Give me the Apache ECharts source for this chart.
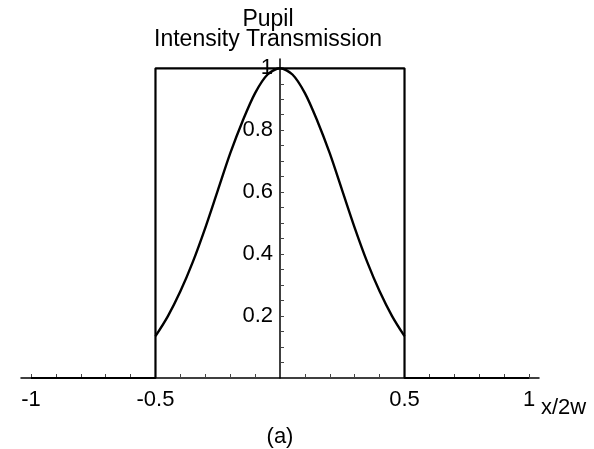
<!DOCTYPE html>
<html>
<head>
<meta charset="utf-8">
<script src="https://cdn.jsdelivr.net/npm/echarts@6/dist/echarts.min.js"></script>
<style>html,body{margin:0;padding:0;background:#fff}#c{width:594px;height:449px}</style>
</head>
<body>
<div id="c"></div>
<script>
// Data
const curveX = [-0.5,-0.45,-0.4,-0.35,-0.3,-0.25,-0.2,-0.15,-0.1,-0.05,0,0.05,0.1,0.15,0.2,0.25,0.3,0.35,0.4,0.45,0.5];
const curveY = [0.135,0.20,0.28,0.375,0.485,0.605,0.725,0.83,0.92,0.98,1,0.98,0.92,0.83,0.725,0.605,0.485,0.375,0.28,0.20,0.135];
const rectX = [-1,-0.5,-0.5,0.5,0.5,1];
const rectY = [0,0,1,1,0,0];
const xLabelValues = [-1,-0.5,0.5,1];
const xTickValues = [-1,-0.9,-0.8,-0.7,-0.6,-0.5,-0.4,-0.3,-0.2,-0.1,0.1,0.2,0.3,0.4,0.5,0.6,0.7,0.8,0.9,1];
const yLabelValues = [0.2,0.4,0.6,0.8,1];
const yTickValues = [0.05,0.1,0.15,0.2,0.25,0.3,0.35,0.4,0.45,0.5,0.55,0.6,0.65,0.7,0.75,0.8,0.85,0.9,0.95,1];
const titleLines = ['Pupil','Intensity Transmission'];
const xName = 'x/2w';
const caption = '(a)';

const FONT = '"Liberation Sans", Arial, Helvetica, sans-serif';
const GL = 21, GR = 55;
const W = 594;
const x0 = GL + (W - GL - GR) / 2; // pixel of x = 0 (symmetric range)
const chart = echarts.init(document.getElementById('c'));
chart.setOption({
  animation: false,
  backgroundColor: '#fff',
  grid: {left: GL, right: GR, top: 59, bottom: 71, containLabel: false, outerBoundsMode: 'none'},
  xAxis: {
    type: 'value', min: -1.04, max: 1.04,
    splitLine: {show: false},
    axisLine: {onZero: true, lineStyle: {color: '#000', width: 1.5}},
    axisTick: {show: true, inside: true, length: 4, customValues: xTickValues, lineStyle: {color: '#444', width: 1}},
    axisLabel: {customValues: xLabelValues, margin: 11, color: '#000', fontSize: 22, fontFamily: FONT,
      formatter: v => String(v)}
  },
  yAxis: {
    type: 'value', min: 0, max: 1.03, position: 'left', offset: -(x0 - GL),
    splitLine: {show: false},
    axisLine: {onZero: false, lineStyle: {color: '#000', width: 1.5}},
    axisTick: {show: true, inside: true, length: 4, customValues: yTickValues, lineStyle: {color: '#444', width: 1}},
    axisLabel: {customValues: yLabelValues, margin: 7, color: '#000', fontSize: 22, fontFamily: FONT,
      formatter: v => String(v)}
  },
  series: [
    {type: 'line', data: rectX.map((x, i) => [x, rectY[i]]), symbol: 'none',
      lineStyle: {color: '#000', width: 2.2}},
    {type: 'line', data: curveX.map((x, i) => [x, curveY[i]]), symbol: 'none', smooth: 0.3,
      lineStyle: {color: '#000', width: 2.4}}
  ],
  graphic: [
    {type: 'text', x: 268, y: 20, style: {text: titleLines[0], font: '23px ' + FONT, fill: '#000', align: 'center', verticalAlign: 'middle'}},
    {type: 'text', x: 268, y: 40, style: {text: titleLines[1], font: '23px ' + FONT, fill: '#000', align: 'center', verticalAlign: 'middle'}},
    {type: 'text', x: 541, y: 397, style: {text: xName, font: '22px ' + FONT, fill: '#000', align: 'left', verticalAlign: 'top'}},
    {type: 'text', x: 280, y: 437, style: {text: caption, font: '22px ' + FONT, fill: '#000', align: 'center', verticalAlign: 'middle'}}
  ]
});
</script>
</body>
</html>
